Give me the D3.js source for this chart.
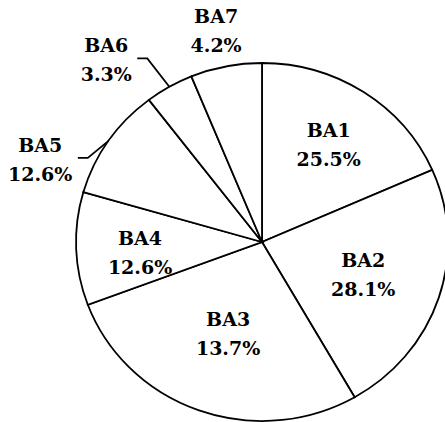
<!DOCTYPE html>
<html>
<head>
<meta charset="utf-8">
<script src="https://cdn.jsdelivr.net/npm/d3@7"></script>
<style>
  html, body { margin: 0; padding: 0; background: #fff; }
  svg { display: block; }
</style>
</head>
<body>
<svg id="chart" width="445" height="422"></svg>
<script>
// ---- data ----
const categories = ["BA1", "BA2", "BA3", "BA4", "BA5", "BA6", "BA7"];
const values = [18.4, 23.3, 27.6, 10.2, 10.1, 4.2, 6.2];           // slice sizes as drawn
const percentLabels = ["25.5%", "28.1%", "13.7%", "12.6%", "12.6%", "3.3%", "4.2%"];

// ---- layout (not data) ----
const W = 445, H = 422;
const cx = 262, cy = 242, R = 186, sy = 179 / 186;
const labelRadius = [0.656, 0.573, 0.538, 0.658, 1.28, 1.32, 1.21];
const labelAngleShift = [0, 0, 0, -2.7, -13.1, -9.5, -0.6];
const hasLeader = [false, false, false, false, true, true, false];
const fontSize = 19, lineGap = 29;
const FONT = "'DejaVu Serif', 'Liberation Serif', 'Times New Roman', serif";

const svg = d3.select("#chart");

const pie = d3.pie().sort(null).value(d => d);
const arcs = pie(values);
const arc = d3.arc().innerRadius(0).outerRadius(R);

const g = svg.append("g").attr("transform", `translate(${cx},${cy}) scale(1,${sy})`);
g.selectAll("path").data(arcs).join("path")
  .attr("d", arc)
  .attr("fill", "#fff")
  .attr("stroke", "#000")
  .attr("stroke-width", 1.8)
  .attr("stroke-linejoin", "miter")
  .attr("vector-effect", "non-scaling-stroke");

function polar(angle, r) {
  return [cx + r * Math.sin(angle), cy - r * Math.cos(angle) * sy];
}

arcs.forEach((a, i) => {
  const mid = (a.startAngle + a.endAngle) / 2;
  const la = mid + labelAngleShift[i] * Math.PI / 180;
  const [lx, ly] = polar(la, labelRadius[i] * R);
  const t = svg.append("text")
    .attr("text-anchor", "middle")
    .attr("font-family", FONT)
    .attr("font-weight", "bold")
    .attr("font-size", fontSize)
    .attr("fill", "#000")
    .style("font-family", FONT)
    .style("font-weight", "bold");
  t.append("tspan").attr("x", lx).attr("y", ly - 7).text(categories[i]);
  t.append("tspan").attr("x", lx).attr("y", ly - 7 + lineGap).text(percentLabels[i]);

  if (hasLeader[i]) {
    const w = t.node().getBBox().width;
    const right = lx + w / 2 + 5.5;
    const yl = ly - 1;
    const start = polar(mid, R);
    svg.append("path")
      .attr("d", d3.line()([[right, yl], [right + 10, yl], start]))
      .attr("fill", "none")
      .attr("stroke", "#000")
      .attr("stroke-width", 1.8);
  }
});
</script>
</body>
</html>
